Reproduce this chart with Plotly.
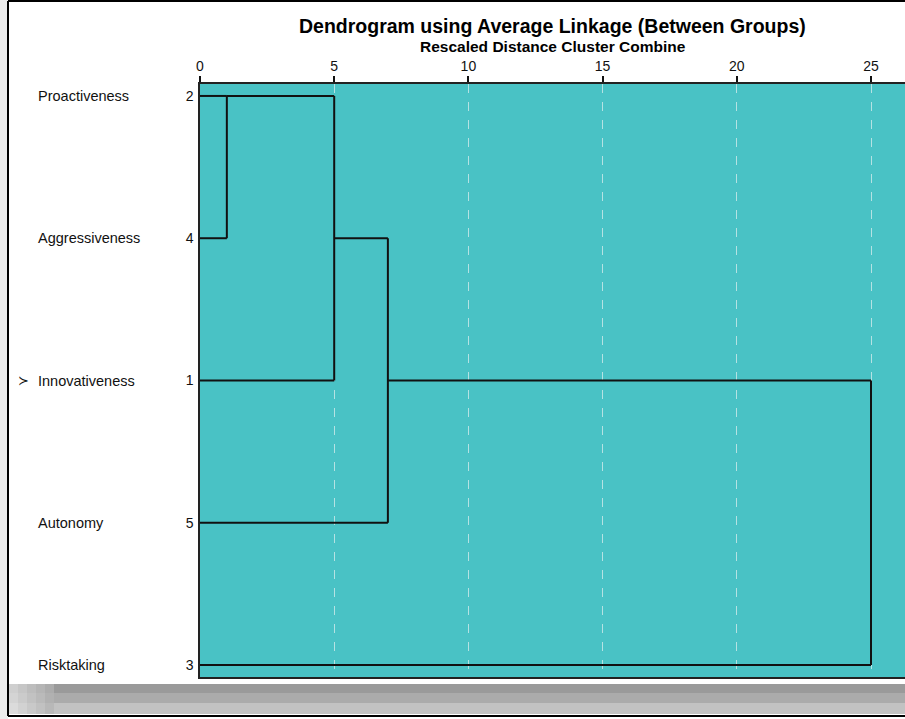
import plotly.graph_objects as go

# ---- data ----
leaf_labels = ["Proactiveness", "Aggressiveness", "Innovativeness", "Autonomy", "Risktaking"]
case_numbers = ["2", "4", "1", "5", "3"]
# merges in leaf-order positions: (cluster A position, cluster B position, rescaled distance)
merge_a = [0, 0, 1, 2]
merge_b = [1, 2, 3, 4]
merge_dist = [1, 5, 7, 25]
x_ticks = [0, 5, 10, 15, 20, 25]

# ---- build dendrogram segments ----
cur_x = {i: 0.0 for i in range(len(leaf_labels))}  # position -> current x of cluster end
xs, ys = [], []
for a, b, d in zip(merge_a, merge_b, merge_dist):
    for p in (a, b):
        xs += [cur_x[p], d, None]
        ys += [p, p, None]
    xs += [d, d, None]
    ys += [a, b, None]
    newp = (a + b) // 2
    cur_x.pop(a); cur_x.pop(b)
    cur_x[newp] = d

W, H = 905, 719
ML, MR, MT, MB = 200, 0, 84, 42
pw, ph = W - ML - MR, H - MT - MB

def px(x):
    return (x - ML) / pw

def py(y):
    return (H - MB - y) / ph

FONT = "Liberation Sans, Arial"

fig = go.Figure()
fig.add_trace(go.Scatter(x=xs, y=ys, mode="lines",
                         line=dict(color="#111111", width=2),
                         hoverinfo="skip", showlegend=False))

annotations = []
for i, name in enumerate(leaf_labels):
    annotations.append(dict(x=px(36), y=i, xref="paper", yref="y", text=name,
                            showarrow=False, xanchor="left", yanchor="middle",
                            font=dict(family=FONT, size=14.5, color="#111")))
annotations.append(dict(x=px(16), y=2, xref="paper", yref="y", text="≻",
                        showarrow=False, xanchor="left", yanchor="middle",
                        font=dict(family="DejaVu Sans", size=13, color="#111")))
annotations.append(dict(x=px(552), y=py(26), xref="paper", yref="paper",
                        text="<b>Dendrogram using Average Linkage (Between Groups)</b>",
                        showarrow=False, xanchor="center", yanchor="middle",
                        font=dict(family=FONT, size=19.5, color="#000")))
annotations.append(dict(x=px(553), y=py(46), xref="paper", yref="paper",
                        text="<b>Rescaled Distance Cluster Combine</b>",
                        showarrow=False, xanchor="center", yanchor="middle",
                        font=dict(family=FONT, size=15.5, color="#000")))

shapes = []
# outer frame and side strip
shapes.append(dict(type="rect", xref="paper", yref="paper", x0=px(0), x1=px(8), y0=py(719), y1=py(0),
                   fillcolor="#ececec", line=dict(width=0), layer="below"))
# bottom gradient bar
bands = [(684, 693, "#9a9a9a"), (693, 703, "#ababab"), (703, 714, "#c2c2c2")]
for y0, y1, c in bands:
    shapes.append(dict(type="rect", xref="paper", yref="paper", x0=px(8), x1=px(905),
                       y0=py(y1), y1=py(y0), fillcolor=c, line=dict(width=0), layer="below"))
for k, c in enumerate(["#e6e6e6", "#d8d8d8", "#cccccc", "#c0c0c0", "#b4b4b4"]):
    shapes.append(dict(type="rect", xref="paper", yref="paper", x0=px(9 + 9 * k), x1=px(18 + 9 * k),
                       y0=py(714), y1=py(684), fillcolor=c, line=dict(width=0), layer="below", opacity=0.7))
shapes.append(dict(type="line", xref="paper", yref="paper", x0=px(8), x1=px(8), y0=py(716), y1=py(1),
                   line=dict(color="#000", width=2)))
shapes.append(dict(type="line", xref="paper", yref="paper", x0=px(8), x1=px(905), y0=py(1), y1=py(1),
                   line=dict(color="#000", width=2)))
shapes.append(dict(type="line", xref="paper", yref="paper", x0=px(8), x1=px(905), y0=py(716), y1=py(716),
                   line=dict(color="#000", width=2)))

fig.update_layout(
    width=W, height=H,
    margin=dict(l=ML, r=MR, t=MT, b=MB),
    paper_bgcolor="#ffffff",
    plot_bgcolor="#49C2C5",
    showlegend=False,
    annotations=annotations,
    shapes=shapes,
    xaxis=dict(side="top", range=[0, (W - ML) / ((871 - 200) / 25)],
               tickvals=x_ticks, ticktext=[str(t) for t in x_ticks],
               ticks="outside", ticklen=6, tickwidth=1.5, tickcolor="#111",
               tickfont=dict(family=FONT, size=14, color="#111"),
               showgrid=True, gridcolor="#b5e2e3", griddash="dash", gridwidth=1,
               showline=True, mirror=True, linecolor="#222", linewidth=1.5,
               zeroline=False, fixedrange=True),
    yaxis=dict(range=[4.084, -0.084], tickvals=list(range(len(case_numbers))),
               ticktext=case_numbers, ticks="", ticklabelstandoff=2,
               tickfont=dict(family=FONT, size=14, color="#111"),
               showgrid=False, zeroline=False,
               showline=True, linecolor="#222", linewidth=1.5, fixedrange=True),
)

fig.write_html("out.html", config={"displayModeBar": False},
               post_script="document.body.style.margin='0';document.body.style.overflow='hidden';")
